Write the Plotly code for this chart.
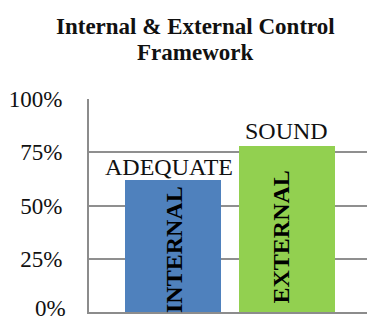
import plotly.graph_objects as go

categories = ["INTERNAL", "EXTERNAL"]
values = [0.62, 0.78]
ratings = ["ADEQUATE", "SOUND"]
colors = ["#4F81BD", "#92D050"]
y_ticks = [0, 0.25, 0.5, 0.75, 1.0]
y_tick_labels = ["0%", "25%", "50%", "75%", "100%"]
title_lines = ["Internal & External Control", "Framework"]

SERIF = "Liberation Serif"
PLOT_TOP = 99

fig = go.Figure()
fig.add_trace(go.Bar(
    x=categories, y=values, marker=dict(color=colors, line=dict(width=0)),
    width=0.84, showlegend=False, hoverinfo="skip",
))

# Rating labels above bars
rating_shift = [(-4, -2), (0, 0)]
for c, v, r, (xs, ys) in zip(categories, values, ratings, rating_shift):
    fig.add_annotation(x=c, y=v, text=r, showarrow=False, yanchor="bottom",
                       xshift=xs, yshift=ys,
                       font=dict(family=SERIF, size=24, color="#111111"))

# Category labels inside bars (rotated)
inner_shift = [(0.5, -3), (-6, 7)]
for c, (xs, ys) in zip(categories, inner_shift):
    fig.add_annotation(x=c, y=0, text="<b>%s</b>" % c, showarrow=False,
                       textangle=-90, yanchor="bottom", xshift=xs, yshift=ys,
                       font=dict(family=SERIF, size=24, color="#000000"))

# Zero tick label (plotly hides it because it touches the page edge)
fig.add_annotation(text=y_tick_labels[0], xref="paper", yref="y", x=0, y=y_ticks[0],
                   xanchor="right", yanchor="bottom", xshift=-22, yshift=-10,
                   borderpad=0, showarrow=False,
                   font=dict(family=SERIF, size=23, color="#111111"))

# Title (two lines)
for line, center_y in zip(title_lines, [26.5, 52.5]):
    fig.add_annotation(text="<b>%s</b>" % line, xref="paper", yref="paper",
                       x=(195 - 89) / 278, y=1, xanchor="center", yanchor="middle",
                       yshift=PLOT_TOP - center_y, showarrow=False,
                       font=dict(family=SERIF, size=23, color="#111111"))

fig.update_layout(
    template="none",
    width=367, height=322,
    margin=dict(l=89, r=0, t=PLOT_TOP, b=10),
    paper_bgcolor="white", plot_bgcolor="white",
    xaxis=dict(range=[-0.737, 1.702], showticklabels=False, showgrid=False,
               zeroline=False, showline=True, linecolor="#8c8c8c", linewidth=2,
               fixedrange=True),
    yaxis=dict(range=[0, 1], tickvals=y_ticks, ticktext=y_tick_labels,
               showgrid=True, gridcolor="#8f8f8f", gridwidth=2, zeroline=False,
               showline=True, linecolor="#8c8c8c", linewidth=2,
               ticks="outside", ticklen=20, tickcolor="rgba(0,0,0,0)",
               tickfont=dict(family=SERIF, size=23, color="#111111")),
    bargap=0,
)

fig.write_html("out.html")
